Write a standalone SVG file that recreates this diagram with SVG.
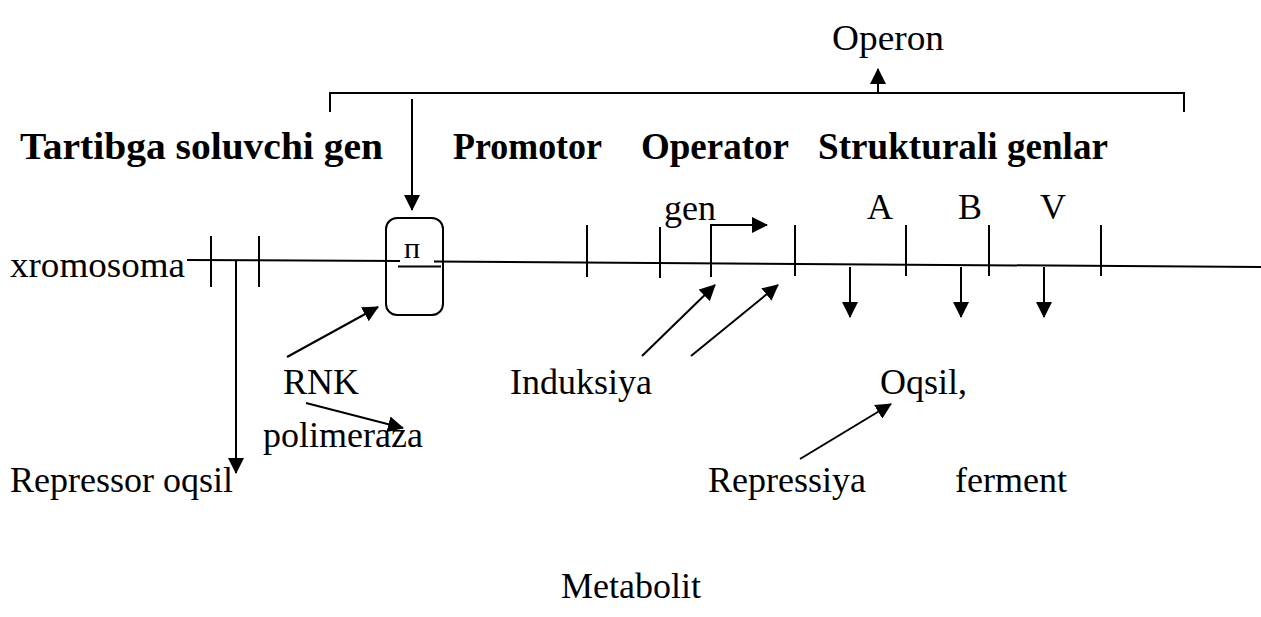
<svg xmlns="http://www.w3.org/2000/svg" width="1261" height="617" viewBox="0 0 1261 617">
<style>
text{font-family:"Liberation Serif","Times New Roman",serif;fill:#000;font-size:36px}
.b{font-weight:bold;font-size:37px}
line,path,polyline,rect{stroke:#000;stroke-width:2;fill:none}
.a{marker-end:url(#ah)}
</style>
<defs>
<marker id="ah" markerUnits="userSpaceOnUse" markerWidth="16" markerHeight="16" viewBox="0 0 16 16" refX="15" refY="8" orient="auto">
<path d="M0,0 L16,8 L0,16 Z" style="fill:#000;stroke:none"/>
</marker>
</defs>
<rect width="1261" height="617" style="fill:#fff;stroke:none"/>
<g id="operon"><text x="832" y="50" textLength="112" lengthAdjust="spacingAndGlyphs">Operon</text></g>
<g id="tartibga"><text class="b" x="20" y="159" textLength="363" lengthAdjust="spacingAndGlyphs">Tartibga soluvchi gen</text></g>
<g id="promotor"><text class="b" x="453" y="159" textLength="149" lengthAdjust="spacingAndGlyphs">Promotor</text></g>
<g id="operator"><text class="b" x="641" y="159" textLength="148" lengthAdjust="spacingAndGlyphs">Operator</text></g>
<g id="strukturali"><text class="b" x="818" y="159" textLength="290" lengthAdjust="spacingAndGlyphs">Strukturali genlar</text></g>
<g id="gen"><text x="664" y="220">gen</text></g>
<g id="genA"><text x="867" y="219">A</text></g>
<g id="genB"><text x="958" y="219">B</text></g>
<g id="genV"><text x="1040" y="219">V</text></g>
<g id="xromosoma"><text x="10" y="277" textLength="175" lengthAdjust="spacingAndGlyphs">xromosoma</text></g>
<g id="box"><rect x="386" y="218" width="57" height="97" rx="11"/><text x="412" y="258" text-anchor="middle" style="font-size:30px">п</text></g>
<g id="rnk"><text x="283" y="394">RNK</text></g>
<g id="polimeraza"><text x="263" y="447">polimeraza</text></g>
<g id="induksiya"><text x="510" y="394">Induksiya</text></g>
<g id="oqsil"><text x="880" y="394">Oqsil,</text></g>
<g id="repressor"><text x="10" y="492">Repressor oqsil</text></g>
<g id="repressiya"><text x="708" y="492">Repressiya</text></g>
<g id="ferment"><text x="955" y="492">ferment</text></g>
<g id="metabolit"><text x="561" y="598">Metabolit</text></g>
<g id="connectors">
<polyline points="330,112 330,93 1184,93 1184,112"/>
<line class="a" x1="878" y1="93" x2="878" y2="69"/>
<line class="a" x1="412" y1="99" x2="412" y2="210"/>
<line x1="187" y1="260" x2="400" y2="261"/>
<line x1="398" y1="266.5" x2="441" y2="266.5"/>
<line x1="434" y1="261.5" x2="1261" y2="267"/>
<line x1="211" y1="236" x2="211" y2="287"/>
<line x1="259" y1="236" x2="259" y2="287"/>
<line x1="587" y1="225" x2="587" y2="277"/>
<line x1="660" y1="227" x2="660" y2="278"/>
<line x1="711" y1="240" x2="711" y2="277"/>
<polyline class="a" points="711,240 711,225 767,225"/>
<line x1="795" y1="225" x2="795" y2="276"/>
<line x1="906" y1="225" x2="906" y2="276"/>
<line x1="989" y1="225" x2="989" y2="276"/>
<line x1="1101" y1="225" x2="1101" y2="276"/>
<line class="a" x1="850" y1="267" x2="850" y2="317"/>
<line class="a" x1="961" y1="267" x2="961" y2="317"/>
<line class="a" x1="1044" y1="267" x2="1044" y2="317"/>
<line class="a" x1="236" y1="260" x2="236" y2="473"/>
<line class="a" x1="287" y1="357" x2="378" y2="307"/>
<line class="a" x1="306" y1="403" x2="403" y2="428"/>
<line class="a" x1="642" y1="356" x2="715" y2="285"/>
<line class="a" x1="691" y1="356" x2="778" y2="285"/>
<line class="a" x1="800" y1="459" x2="891" y2="404"/>
</g>
</svg>
